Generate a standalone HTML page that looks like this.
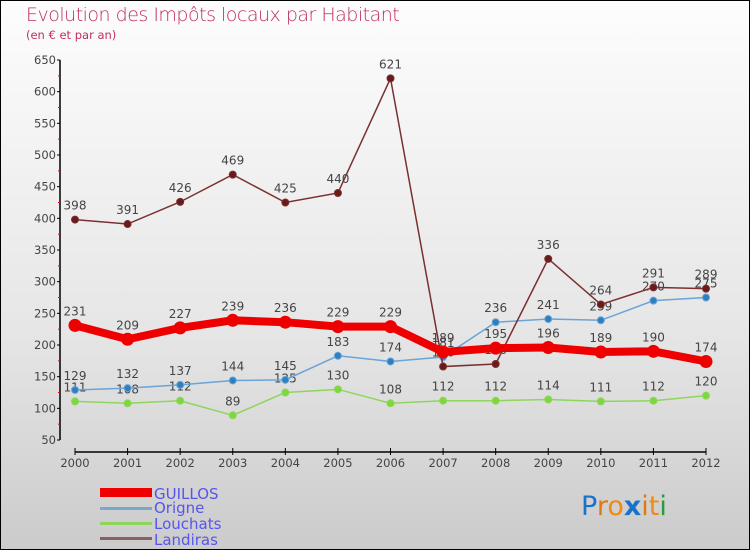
<!DOCTYPE html>
<html><head><meta charset="utf-8"><style>
body{margin:0}
#c{width:750px;height:550px;position:relative;box-sizing:border-box;border:1px solid #000;background:linear-gradient(#fdfdfd,#e6e6e6 60%,#cbcbcb);overflow:hidden;font-family:"DejaVu Sans","Liberation Sans",sans-serif}
</style></head><body>
<div id="c">
<svg id="s" width="750" height="550" style="position:absolute;left:-1px;top:-1px">
<text x="26" y="21" font-size="19" fill="#c0305a" font-family="DejaVu Sans" font-weight="200" style="letter-spacing:-0.5px">Evolution des Impôts locaux par Habitant</text>
<text x="26" y="39" font-size="11.5" fill="#c0305a">(en € et par an)</text>
<g id="ax"></g><g id="ser"></g>
<g>
<rect x="100" y="488" width="52" height="9" fill="#e00"/>
<text x="154" y="499" font-size="15" fill="#5555ee">GUILLOS</text>
<rect x="100" y="507" width="52" height="3" fill="#7aa7cc"/>
<text x="154" y="513" font-size="15" fill="#5555ee">Origne</text>
<rect x="100" y="522" width="52" height="3" fill="#8ed65a"/>
<text x="154" y="529" font-size="15" fill="#5555ee">Louchats</text>
<rect x="100" y="537" width="52" height="3" fill="#8a6060"/>
<text x="154" y="545" font-size="15" fill="#5555ee">Landiras</text>
</g>
<g font-size="27" font-family="DejaVu Sans">
<text x="581" y="515"><tspan fill="#1a73c8">P</tspan><tspan fill="#e07a10">r</tspan><tspan fill="#f08a10">o</tspan><tspan fill="#1a73c8" font-weight="bold">x</tspan><tspan fill="#e07a10">i</tspan><tspan fill="#f08a10">t</tspan><tspan fill="#2a9a3a">i</tspan></text>
</g>
</svg>
</div>
<script>
const years=[2000,2001,2002,2003,2004,2005,2006,2007,2008,2009,2010,2011,2012];
const yTicks=[50,100,150,200,250,300,350,400,450,500,550,600,650];
const guillos=[231,209,227,239,236,229,229,189,195,196,189,190,174];
const origine=[129,132,137,144,145,183,174,181,236,241,239,270,275];
const louchats=[111,108,112,89,125,130,108,112,112,114,111,112,120];
const landiras=[398,391,426,469,425,440,621,166,170,336,264,291,289];
const NS="http://www.w3.org/2000/svg";
const X=i=>75+i*(706-75)/12;
const Y=v=>440-(v-50)*(380/600);
function mk(t,a,p){const e=document.createElementNS(NS,t);for(const k in a)e.setAttribute(k,a[k]);p.appendChild(e);return e;}
const ax=document.getElementById('ax');
let l=mk('line',{x1:60,y1:Y(650),x2:60,y2:Y(50),stroke:'#000','stroke-width':1.5},ax);


l=mk('line',{x1:75,y1:452,x2:706,y2:452,stroke:'#000','stroke-width':1.5},ax);


yTicks.forEach((v,i)=>{
 mk('line',{x1:57,y1:Y(v),x2:60,y2:Y(v),stroke:'#000'},ax);
 if(i<yTicks.length-1)mk('line',{x1:58,y1:Y(v+25),x2:60,y2:Y(v+25),stroke:'#f00'},ax);
 const t=mk('text',{x:56,y:Y(v)+4,'text-anchor':'end','font-size':11.5,fill:'#444'},ax);
 t.textContent=v;
 
 
});
years.forEach((y,i)=>{
 mk('line',{x1:X(i),y1:448,x2:X(i),y2:455,stroke:'#000'},ax);
 const t=mk('text',{x:X(i),y:467,'text-anchor':'middle','font-size':11.5,fill:'#444'},ax);
 t.textContent=y;
 
 
});
const ser=document.getElementById('ser');
function draw(vals,color,dot,w,r,name){
 const g=mk('g',{},ser);
 
 
 const p=mk('polyline',{points:vals.map((v,i)=>X(i)+','+Y(v)).join(' '),fill:'none',stroke:color,'stroke-width':w},g);
 
 
 vals.forEach((v,i)=>{
  const c=mk('circle',{cx:X(i),cy:Y(v),r:r,fill:dot,stroke:color,'stroke-width':1},g);
  
  
  const t=mk('text',{x:X(i),y:Y(v)-10,'text-anchor':'middle','font-size':12,fill:'#444'},g);
  t.textContent=v;
  
  
 });
}
draw(louchats,'#8ed65a','#7dd840',1.5,3.5,'louchats');
draw(origine,'#6aa4d8','#2f7fc0',1.5,3.5,'origine');
draw(landiras,'#7a3030','#6a1a1a',1.5,3.5,'landiras');
draw(guillos,'#ee0000','#ee0000',8,6,'guillos');
</script>
</body></html>
